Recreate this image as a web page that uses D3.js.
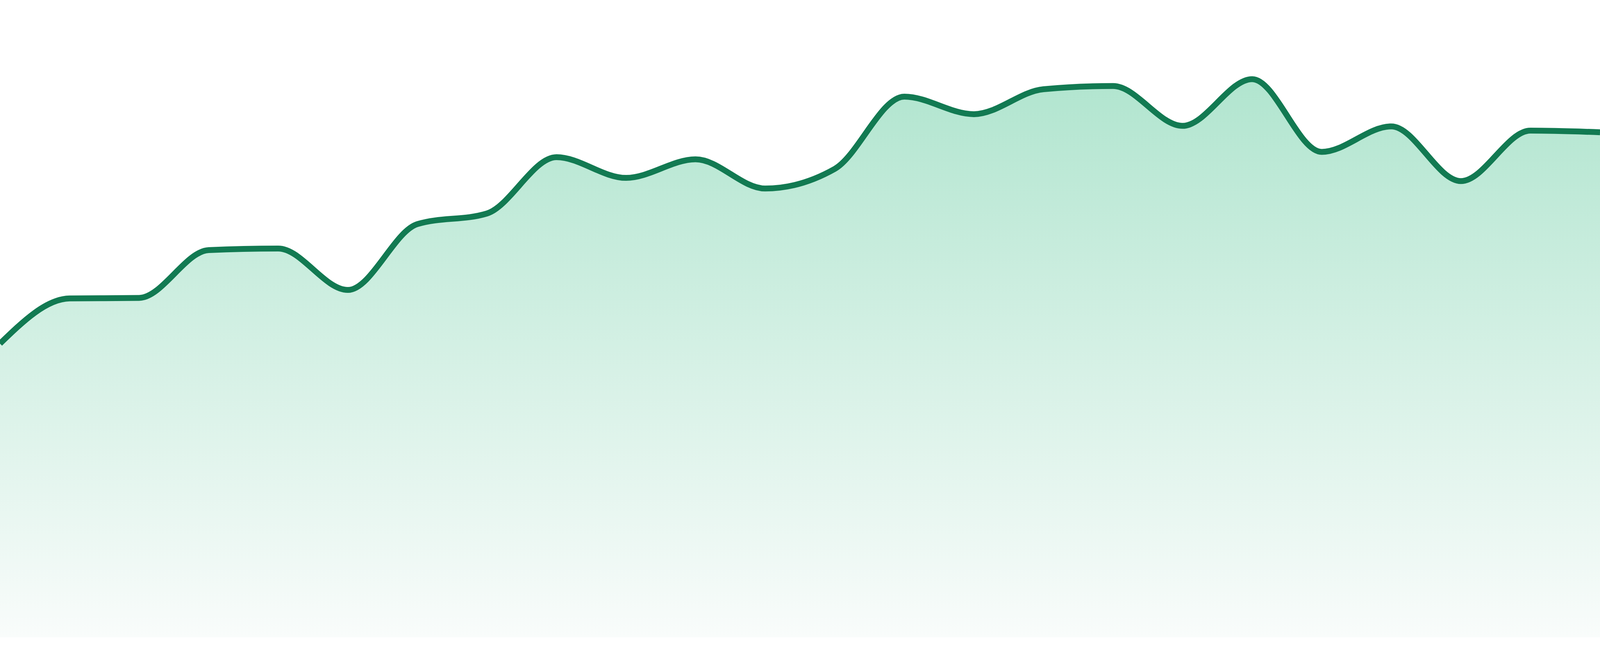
<!DOCTYPE html>
<html>
<head>
<meta charset="utf-8">
<title>Area trend</title>
<script src="https://cdn.jsdelivr.net/npm/d3@7"></script>
<style>
  html, body { margin: 0; padding: 0; overflow: hidden; background: #ffffff; }
  #chart svg { display: block; }
</style>
</head>
<body>
<div id="chart"></div>
<script>
// DATA

// 24 evenly spaced samples
var periods = d3.range(1, 25);
var values = [
  55.3, 63.8, 63.9, 72.9, 73.2, 65.4, 77.8, 79.8,
  90.4, 86.5, 90.0, 84.5, 88.2, 101.8, 98.5, 103.2,
  103.8, 96.3, 105.1, 91.4, 96.2, 85.9, 95.4, 95.1
];
var yDomain = [0, 120];

// CHART VARIABLES

// chart fills the window width; height is fixed
var width = window.innerWidth || 4800;
var height = 1680;
var baseY = 1632; // bottom of the filled area
var lineColor = '#127a52';
var lineWidth = 15;
var fillTop = '#b1e5cf';
var fillBottom = '#f9fcfb';

var series = periods.map(function(p, i) {
  return { period: p, value: values[i] };
});

// scales: first and last sample sit on the edges
var x = d3.scaleLinear()
    .domain(d3.extent(periods))
    .range([0, width]);

var y = d3.scaleLinear()
    .domain(yDomain)
    .range([baseY, 0]);

var svg = d3.select('#chart')
  .append('svg')
    .attr('width', width)
    .attr('height', height);

svg.append('rect')
    .attr('width', width)
    .attr('height', height)
    .attr('fill', '#ffffff');

// vertical gradient from the highest point down to the base
var grad = svg.append('defs')
  .append('linearGradient')
    .attr('id', 'areaFill')
    .attr('gradientUnits', 'userSpaceOnUse')
    .attr('x1', 0)
    .attr('x2', 0)
    .attr('y1', y(d3.max(values)))
    .attr('y2', y(0));
grad.append('stop').attr('offset', 0).attr('stop-color', fillTop);
grad.append('stop').attr('offset', 1).attr('stop-color', fillBottom);

// AREA AND LINE

var area = d3.area()
    .x(function(d) { return x(d.period); })
    .y0(y(0))
    .y1(function(d) { return y(d.value); })
    .curve(d3.curveMonotoneX);

var line = d3.line()
    .x(function(d) { return x(d.period); })
    .y(function(d) { return y(d.value); })
    .curve(d3.curveMonotoneX);

svg.append('path')
    .datum(series)
    .attr('d', area)
    .attr('fill', 'url(#areaFill)');

svg.append('path')
    .datum(series)
    .attr('d', line)
    .attr('fill', 'none')
    .attr('stroke', lineColor)
    .attr('stroke-width', lineWidth)
    .attr('stroke-linejoin', 'round');
</script>
</body>
</html>
